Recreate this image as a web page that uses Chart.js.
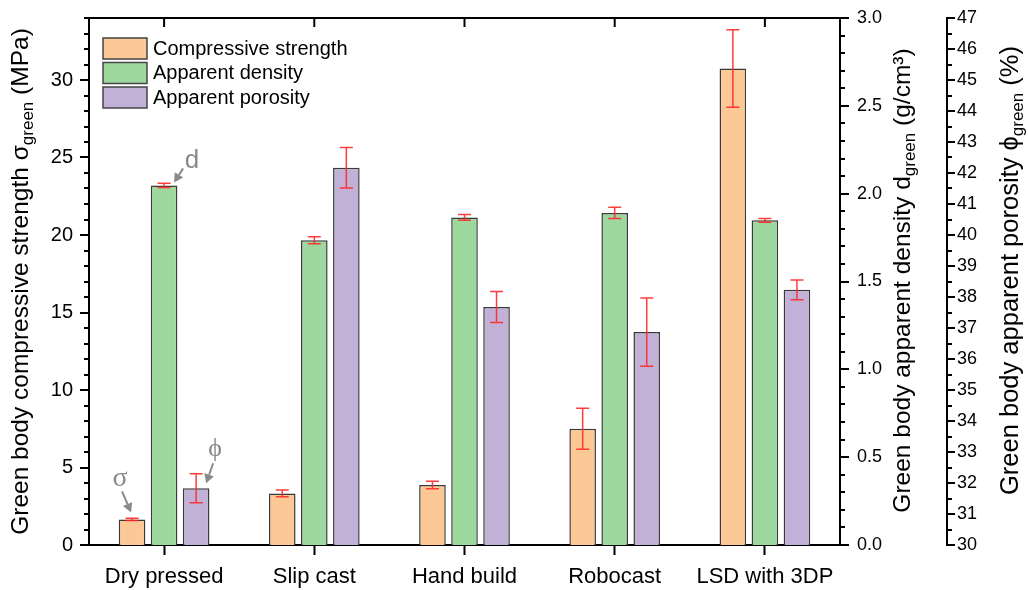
<!DOCTYPE html>
<html><head><meta charset="utf-8">
<script src="https://cdn.jsdelivr.net/npm/chart.js@4.4.1/dist/chart.umd.min.js"></script>
<style>html,body{margin:0;padding:0;background:#fff}#wrap{width:1028px;height:590px;position:relative}</style>
</head><body><div id="wrap"><canvas id="c"></canvas></div>
<script>
// ---- data ----
const categories = ['Dry pressed', 'Slip cast', 'Hand build', 'Robocast', 'LSD with 3DP'];
const seriesNames = ['Compressive strength', 'Apparent density', 'Apparent porosity'];
const strength = [1.65, 3.33, 3.87, 7.5, 30.75];
const strengthErr = [0.07, 0.22, 0.24, 1.32, 2.5];
const density = [2.047, 1.735, 1.865, 1.89, 1.848];
const densityErr = [0.012, 0.02, 0.017, 0.032, 0.011];
const porosity = [31.83, 42.17, 37.68, 36.87, 38.23];
const porosityErr = [0.47, 0.65, 0.5, 1.1, 0.32];
// axis ranges / tick steps
const strengthRange = [0, 34], strengthMajor = 5, strengthMinor = 1;
const densityRange = [0, 3], densityMajor = 0.5, densityMinor = 0.1;
const porosityRange = [30, 47], porosityMajor = 1, porosityMinor = 0.5;
// annotation glyphs per series
const markers = ['σ', 'd', 'ϕ'];

const colors = ['#FBC896', '#9FD89F', '#C2B1D7'];
const SANS = '"Liberation Sans", Arial, sans-serif';
const SERIF = '"Liberation Serif", "Times New Roman", serif';
Chart.defaults.color = '#000';
Chart.defaults.font.family = SANS;

function minorTicks(ctx, scale, step, majorStep, x, dir, majLen, minLen) {
  const n = Math.round((scale.max - scale.min) / step);
  ctx.save();
  ctx.strokeStyle = '#000';
  ctx.lineWidth = 2;
  for (let i = 0; i <= n; i++) {
    const v = scale.min + i * step;
    const r = v / majorStep;
    const isMajor = Math.abs(r - Math.round(r)) < 1e-6;
    const y = Math.round(scale.getPixelForValue(v));
    const len = isMajor ? majLen : minLen;
    ctx.beginPath();
    ctx.moveTo(x, y);
    ctx.lineTo(x + dir * len, y);
    ctx.stroke();
  }
  ctx.restore();
}

function rotTitle(ctx, cx, cy, parts) {
  ctx.save();
  ctx.translate(cx, cy);
  ctx.rotate(-Math.PI / 2);
  ctx.fillStyle = '#000';
  ctx.textBaseline = 'middle';
  ctx.textAlign = 'left';
  let total = 0;
  parts.forEach(p => { ctx.font = p.size + 'px ' + SANS; p.w = ctx.measureText(p.t).width; total += p.w; });
  let x = -total / 2;
  parts.forEach(p => { ctx.font = p.size + 'px ' + SANS; ctx.fillText(p.t, x, p.dy || 0); x += p.w; });
  ctx.restore();
}

function arrow(ctx, x1, y1, x2, y2) {
  const a = Math.atan2(y2 - y1, x2 - x1);
  const hl = 9, hw = 5;
  const bx = x2 - hl * Math.cos(a), by = y2 - hl * Math.sin(a);
  ctx.beginPath();
  ctx.moveTo(x1, y1); ctx.lineTo(bx, by); ctx.stroke();
  ctx.beginPath();
  ctx.moveTo(x2, y2);
  ctx.lineTo(bx + hw * Math.sin(a), by - hw * Math.cos(a));
  ctx.lineTo(bx - hw * Math.sin(a), by + hw * Math.cos(a));
  ctx.closePath(); ctx.fill();
}

const errs = [strengthErr, densityErr, porosityErr];

const decor = {
  id: 'decor',
  afterDatasetsDraw(chart) {
    const ctx = chart.ctx;
    ctx.save();
    ctx.strokeStyle = 'rgba(255,40,40,0.9)';
    ctx.lineWidth = 1.5;
    chart.data.datasets.forEach((ds, d) => {
      const meta = chart.getDatasetMeta(d);
      const sc = chart.scales[meta.yAxisID];
      meta.data.forEach((el, i) => {
        const v = ds.data[i], e = errs[d][i];
        const yt = sc.getPixelForValue(v + e), yb = sc.getPixelForValue(v - e);
        const x = el.x;
        ctx.beginPath();
        ctx.moveTo(x, yt); ctx.lineTo(x, yb);
        ctx.moveTo(x - 6.5, yt); ctx.lineTo(x + 6.5, yt);
        ctx.moveTo(x - 6.5, yb); ctx.lineTo(x + 6.5, yb);
        ctx.stroke();
      });
    });
    ctx.restore();
  },
  afterDraw(chart) {
    const ctx = chart.ctx;
    const ca = chart.chartArea;
    const sL = chart.scales.y, sD = chart.scales.y1, sP = chart.scales.y2, sx = chart.scales.x;
    ctx.save();
    ctx.strokeStyle = '#000'; ctx.lineWidth = 2;
    ctx.beginPath(); ctx.moveTo(ca.left - 1, ca.top); ctx.lineTo(ca.right + 1, ca.top); ctx.stroke();
    categories.forEach((c, i) => {
      const x = sx.getPixelForValue(i);
      ctx.beginPath(); ctx.moveTo(x, ca.top); ctx.lineTo(x, ca.top + 9); ctx.stroke();
    });
    ctx.restore();
    minorTicks(ctx, sL, strengthMinor, strengthMajor, sL.right, -1, 9, 5);
    minorTicks(ctx, sD, densityMinor, densityMajor, sD.left, 1, 9, 5);
    minorTicks(ctx, sP, porosityMinor, porosityMajor, sP.left, 1, 8, 5);
    const cy = (ca.top + ca.bottom) / 2;
    rotTitle(ctx, 21, cy, [
      {t: 'Green body compressive strength σ', size: 24.5},
      {t: 'green', size: 17, dy: 7},
      {t: ' (MPa)', size: 24.5}
    ]);
    rotTitle(ctx, 903, cy - 1, [
      {t: 'Green body apparent density d', size: 24.5},
      {t: 'green', size: 17, dy: 7},
      {t: ' (g/cm³)', size: 24.5}
    ]);
    rotTitle(ctx, 1011, cy - 11, [
      {t: 'Green body apparent porosity ϕ', size: 25.5},
      {t: 'green', size: 17, dy: 7},
      {t: ' (%)', size: 25.5}
    ]);
    ctx.save();
    chart.data.datasets.forEach((ds, i) => {
      const y = 38 + i * 24.5;
      ctx.fillStyle = ds.backgroundColor;
      ctx.fillRect(103, y, 44, 21);
      ctx.strokeStyle = '#444'; ctx.lineWidth = 1.5;
      ctx.strokeRect(103, y, 44, 21);
      ctx.fillStyle = '#000';
      ctx.font = '20px ' + SANS;
      ctx.textBaseline = 'middle'; ctx.textAlign = 'left';
      ctx.fillText(ds.label, 153, y + 11);
    });
    ctx.restore();
    ctx.save();
    ctx.fillStyle = '#8a8a8a'; ctx.strokeStyle = '#8a8a8a'; ctx.lineWidth = 2;
    ctx.textAlign = 'center'; ctx.textBaseline = 'middle';
    const e0 = chart.getDatasetMeta(0).data[0];
    const e1 = chart.getDatasetMeta(1).data[0];
    const e2 = chart.getDatasetMeta(2).data[0];
    ctx.font = '28px ' + SERIF;
    ctx.fillText(markers[0], e0.x - 12, e0.y - 41);
    arrow(ctx, e0.x - 10, e0.y - 28, e0.x - 1, e0.y - 7);
    ctx.font = '26px ' + SANS;
    ctx.fillText(markers[1], e1.x + 28, e1.y - 25);
    arrow(ctx, e1.x + 19, e1.y - 17, e1.x + 10, e1.y - 3);
    ctx.font = '26px ' + SERIF;
    ctx.fillText(markers[2], e2.x + 19, e2.y - 39);
    arrow(ctx, e2.x + 17, e2.y - 25, e2.x + 10, e2.y - 5);
    ctx.restore();
  }
};

const series = [strength, density, porosity];
const axisIds = ['y', 'y1', 'y2'];
function fixV(w) { return s => { s.width = w; s.paddingTop = 0; s.paddingBottom = 0; }; }

new Chart(document.getElementById('c'), {
  type: 'bar',
  data: {
    labels: categories,
    datasets: series.map((s, i) => ({
      label: seriesNames[i],
      data: s,
      yAxisID: axisIds[i],
      backgroundColor: colors[i],
      borderColor: '#3a3a3a',
      borderWidth: 1.5,
      categoryPercentage: 0.64,
      barPercentage: 0.83
    }))
  },
  options: {
    responsive: true,
    maintainAspectRatio: false,
    animation: false,
    layout: {padding: {top: 18, left: 0, right: 0, bottom: 0}},
    plugins: {legend: {display: false}, tooltip: {enabled: false}},
    scales: {
      x: {
        grid: {display: true, offset: false, drawOnChartArea: false, tickLength: 10, tickWidth: 2, tickColor: '#000'},
        border: {color: '#000', width: 2},
        ticks: {font: {size: 22}, padding: 9, maxRotation: 0},
        afterFit: s => { s.height = 45; s.paddingLeft = 0; s.paddingRight = 0; }
      },
      y: {
        position: 'left', min: strengthRange[0], max: strengthRange[1],
        grid: {display: false, drawTicks: false},
        border: {color: '#000', width: 2},
        ticks: {stepSize: strengthMajor, includeBounds: false, font: {size: 20}, padding: 16},
        afterFit: fixV(89)
      },
      y1: {
        position: 'right', weight: 1, min: densityRange[0], max: densityRange[1],
        grid: {display: false, drawTicks: false},
        border: {color: '#000', width: 2},
        ticks: {stepSize: densityMajor, font: {size: 18}, padding: 17, callback: v => v.toFixed(1)},
        afterFit: fixV(107)
      },
      y2: {
        position: 'right', weight: 2, min: porosityRange[0], max: porosityRange[1],
        grid: {display: false, drawTicks: false},
        border: {color: '#000', width: 2},
        ticks: {stepSize: porosityMajor, font: {size: 18}, padding: 10},
        afterFit: fixV(81)
      }
    }
  },
  plugins: [decor]
});
</script>
</body></html>
